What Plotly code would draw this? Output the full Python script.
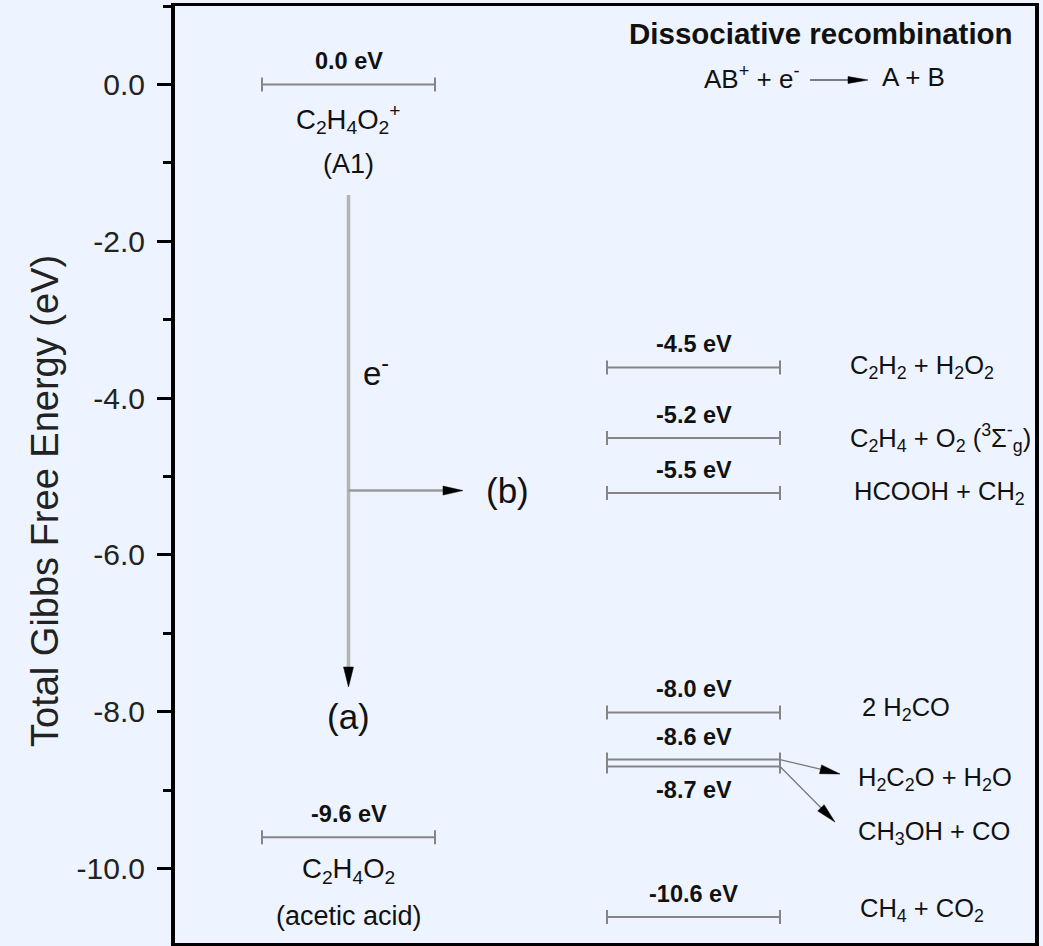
import plotly.graph_objects as go

# ---------------- data ----------------
y_tick_vals = [0.0, -2.0, -4.0, -6.0, -8.0, -10.0]
y_tick_text = ["0.0", "-2.0", "-4.0", "-6.0", "-8.0", "-10.0"]

# left column (reactant ion and acetic acid)
left_levels = [0.0, -9.6]
left_level_labels = ["0.0 eV", "-9.6 eV"]
left_species = ["C_2H_4O_2^+", "C_2H_4O_2"]
left_species_y = [-0.44, -10.02]
left_notes = ["(A1)", "(acetic acid)"]
left_notes_y = [-1.01, -10.6]

# right column (dissociation products); levels as drawn in the figure
right_levels = [-3.61, -4.51, -5.21, -8.01, -8.61, -8.70, -10.62]
right_level_labels = ["-4.5 eV", "-5.2 eV", "-5.5 eV", "-8.0 eV", "-8.6 eV", "-8.7 eV", "-10.6 eV"]
right_label_side = [1, 1, 1, 1, 1, -1, 1]   # 1 above line, -1 below line
products = ["C_2H_2 + H_2O_2",
            "C_2H_4 + O_2 (^3Σ^-_g)",
            "HCOOH + CH_2",
            "2 H_2CO",
            "H_2C_2O + H_2O",
            "CH_3OH + CO",
            "CH_4 + CO_2"]
products_y = [-3.61, -4.51, -5.21, -7.97, -8.86, -9.55, -10.53]
products_x = [848, 848, 852, 860, 856, 856, 858]

# ---------------- layout constants ----------------
W, H = 1043, 946
M_L, M_R, M_T, M_B = 175, 8, 6, 3
PLOT_W = W - M_L - M_R
PLOT_H = H - M_T - M_B
X_RANGE = [M_L, W - M_R]          # x axis measured in pixel-like units
Y_RANGE = [-10.95, 1.0]
LEFT_COL = (262, 435)
RIGHT_COL = (607, 780)
FONT = "Liberation Sans, Arial, Helvetica, sans-serif"
BG = "#EEF4FF"
LEVEL_GRAY = "#858585"


def chem(s):
    """'C_2H_4O_2^+' -> plotly rich text with sub/superscripts."""
    out, i = [], 0
    while i < len(s):
        c = s[i]
        if c in "_^" and i + 1 < len(s):
            tag = "sub" if c == "_" else "sup"
            out.append(f"<{tag}>{s[i + 1]}</{tag}>")
            i += 2
        else:
            out.append(c)
            i += 1
    return "".join(out)


def y_to_px(v):
    return M_T + (Y_RANGE[1] - v) / (Y_RANGE[1] - Y_RANGE[0]) * PLOT_H


def px_to_y(p):
    return Y_RANGE[1] - (p - M_T) / PLOT_H * (Y_RANGE[1] - Y_RANGE[0])


fig = go.Figure()


def level_trace(col, levels):
    cx = (col[0] + col[1]) / 2
    half = (col[1] - col[0]) / 2
    return go.Scatter(
        x=[cx] * len(levels), y=levels, mode="markers",
        marker=dict(size=1, color="rgba(0,0,0,0)"),
        error_x=dict(type="constant", value=half, width=7, thickness=2, color=LEVEL_GRAY),
        hoverinfo="skip", showlegend=False)


fig.add_trace(level_trace(LEFT_COL, left_levels))
fig.add_trace(level_trace(RIGHT_COL, right_levels))

shapes = []
annotations = []


def arrow(x0, v0, x1, v1, color, width, head_len=20, head_w=10):
    p0 = (x0, y_to_px(v0))
    p1 = (x1, y_to_px(v1))
    dx, dy = p1[0] - p0[0], p1[1] - p0[1]
    ln = (dx * dx + dy * dy) ** 0.5
    ux, uy = dx / ln, dy / ln
    nx, ny = -uy, ux
    sx, sy = p1[0] - ux * head_len * 0.7, p1[1] - uy * head_len * 0.7
    shapes.append(dict(type="line", xref="x", yref="y", x0=p0[0], y0=v0,
                       x1=sx, y1=px_to_y(sy), line=dict(color=color, width=width)))
    bx, by = p1[0] - ux * head_len, p1[1] - uy * head_len
    pts = [(p1[0], p1[1]),
           (bx + nx * head_w / 2, by + ny * head_w / 2),
           (bx - nx * head_w / 2, by - ny * head_w / 2)]
    path = "M " + " L ".join(f"{x:.2f},{px_to_y(y):.4f}" for x, y in pts) + " Z"
    shapes.append(dict(type="path", xref="x", yref="y", path=path,
                       fillcolor="black", line=dict(color="black", width=0.5)))


def text(x, y, s, size, bold=False, xanchor="center", yshift=0, color="#111111",
         angle=0, xref="x"):
    if bold:
        s = "<b>" + s + "</b>"
    annotations.append(dict(x=x, y=y, xref=xref, yref="y", text=s, showarrow=False,
                            xanchor=xanchor, yanchor="middle", yshift=yshift,
                            textangle=angle,
                            font=dict(family=FONT, size=size, color=color)))


# left column labels
lcx = (LEFT_COL[0] + LEFT_COL[1]) / 2
for lv, lab in zip(left_levels, left_level_labels):
    text(lcx, lv, lab, 23.5, bold=True, yshift=23)
for sp, sy in zip(left_species, left_species_y):
    text(lcx, sy, chem(sp), 27.5)
for nt, ny_ in zip(left_notes, left_notes_y):
    text(lcx, ny_, nt, 27)

# right column labels
rcx = (RIGHT_COL[0] + RIGHT_COL[1]) / 2
for lv, lab, side in zip(right_levels, right_level_labels, right_label_side):
    text(rcx, lv, lab, 23.5, bold=True, yshift=23 * side)
for pr, py, px in zip(products, products_y, products_x):
    text(px, py, chem(pr), 25.5, xanchor="left")

# pathway arrows
arrow(lcx, px_to_y(195), lcx, px_to_y(687), "#B4B4B4", 3.5, head_len=20, head_w=10)
arrow(lcx, -5.18, 463, -5.18, "#9A9A9A", 2.5, head_len=20, head_w=9)
text(361, -3.65, chem("e^-"), 33, xanchor="left")
text(507, -5.18, "(b)", 35)
text(lcx, -8.06, "(a)", 35)

# product arrows from the -8.6 / -8.7 levels
arrow(RIGHT_COL[1], right_levels[4], 840, px_to_y(774), "#7A7A7A", 1.3, head_len=20, head_w=9)
arrow(RIGHT_COL[1], right_levels[5], 835, px_to_y(822), "#7A7A7A", 1.3, head_len=20, head_w=9)

# header
text(821, px_to_y(33), "Dissociative recombination", 29.5, bold=True)
text(751, px_to_y(77), chem("AB^+ + e^-"), 26)
arrow(810, px_to_y(80), 868, px_to_y(80), "#555555", 1.3, head_len=20, head_w=7)
text(913, px_to_y(77), "A + B", 26)

# y-axis title (annotation in paper x so it can sit left of the axis, off-centre like the original)
text((45 - M_L) / PLOT_W, px_to_y(501), "Total Gibbs Free Energy (eV)", 38,
     angle=-90, color="#222222", xref="paper")

fig.update_layout(
    width=W, height=H,
    margin=dict(l=M_L, r=M_R, t=M_T, b=M_B, pad=0),
    paper_bgcolor=BG, plot_bgcolor=BG,
    shapes=shapes, annotations=annotations,
    showlegend=False,
    font=dict(family=FONT, color="#222222"),
)
fig.update_xaxes(range=X_RANGE, showgrid=False, zeroline=False, showticklabels=False,
                 ticks="", showline=True, mirror=True, linecolor="black", linewidth=3)
fig.update_yaxes(range=Y_RANGE, showgrid=False, zeroline=False,
                 tickmode="array", tickvals=y_tick_vals, ticktext=y_tick_text,
                 ticks="outside", ticklen=14, tickwidth=3, tickcolor="black",
                 tickfont=dict(family=FONT, size=30, color="#222222"),
                 ticklabelstandoff=6,
                 minor=dict(dtick=1, tick0=0, ticks="outside", ticklen=8, tickwidth=3, tickcolor="black"),
                 showline=True, mirror=True, linecolor="black", linewidth=4)

fig.write_html("out.html",
               config={"displayModeBar": False},
               post_script="document.body.style.margin='0';document.body.style.background='" + BG + "';")
